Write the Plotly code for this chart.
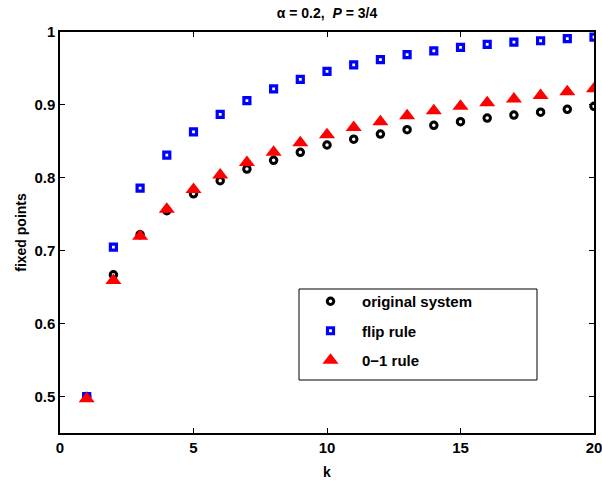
import plotly.graph_objects as go

k = list(range(1, 21))
original_system = [0.500, 0.667, 0.722, 0.755, 0.778, 0.796, 0.812, 0.824, 0.835, 0.845,
                   0.853, 0.860, 0.866, 0.872, 0.877, 0.882, 0.886, 0.890, 0.894, 0.898]
flip_rule = [0.500, 0.705, 0.786, 0.831, 0.863, 0.887, 0.906, 0.922, 0.935, 0.946,
             0.955, 0.962, 0.969, 0.974, 0.979, 0.983, 0.986, 0.988, 0.991, 0.993]
zero_one_rule = [0.497, 0.659, 0.720, 0.757, 0.784, 0.804, 0.821, 0.835, 0.848, 0.859,
                 0.869, 0.877, 0.885, 0.892, 0.898, 0.903, 0.908, 0.913, 0.918, 0.922]

x_ticks = [0, 5, 10, 15, 20]
y_ticks = [0.5, 0.6, 0.7, 0.8, 0.9, 1.0]
y_tick_text = ["0.5", "0.6", "0.7", "0.8", "0.9", "1"]

FONT = "Liberation Sans, Arial, Helvetica, sans-serif"

# plot area in pixels
L, R, T, B = 60, 594, 32, 433
W, H = R - L, B - T

fig = go.Figure()
fig.add_trace(go.Scatter(
    x=k, y=original_system, mode="markers", name="<b>original system</b>", legendgroup="a",
    marker=dict(symbol="circle-open", size=6.5, color="black", line=dict(width=3, color="black")),
))
fig.add_trace(go.Scatter(
    x=k, y=flip_rule, mode="markers", name="<b>flip rule</b>", legendgroup="b",
    marker=dict(symbol="square-open", size=6, color="#0000ff", line=dict(width=3.2, color="#0000ff")),
))
fig.add_trace(go.Scatter(
    x=k, y=zero_one_rule, mode="markers", name="<b>0\u22121 rule</b>", legendgroup="c",
    marker=dict(symbol="triangle-up", size=14, color="#ff0000", line=dict(width=0)),
))

axis_common = dict(
    showgrid=False, zeroline=False, showline=True, linecolor="black", linewidth=1.5,
    mirror="ticks", ticks="inside", ticklen=5, tickwidth=1, tickcolor="black",
    tickfont=dict(family=FONT, size=15, color="black"), automargin=False,
    ticklabeloverflow="allow",
)

# legend frame
fig.add_shape(
    type="rect", xref="paper", yref="paper",
    x0=(299 - L) / W, x1=(537 - L) / W, y0=(B - 380) / H, y1=(B - 289) / H,
    line=dict(color="black", width=1), fillcolor="white", layer="below",
)

fig.update_layout(
    width=602, height=483,
    margin=dict(l=L, r=602 - R, t=T, b=483 - B, autoexpand=False),
    paper_bgcolor="white", plot_bgcolor="white",
    font=dict(family=FONT, color="black"),
    title=dict(
        text="<b>\u03b1 = 0.2,  <i>P</i> = 3/4</b>",
        x=327 / 602, xanchor="center", y=1 - 13 / 483, yanchor="middle",
        font=dict(family=FONT, size=14, color="black"),
    ),
    xaxis=dict(range=[0, 20], tickvals=x_ticks, ticktext=[f"<b>{t}</b>" for t in x_ticks],
               title=dict(text="<b>k</b>", font=dict(family=FONT, size=14), standoff=12),
               **axis_common),
    yaxis=dict(range=[0.45, 1.0], tickvals=y_ticks, ticktext=[f"<b>{t}</b>" for t in y_tick_text],
               title=dict(text="<b>fixed points</b>", font=dict(family=FONT, size=14), standoff=4),
               **axis_common),
    legend=dict(
        x=(299 - L) / W, y=(B - 285) / H, xanchor="left", yanchor="top",
        borderwidth=0, bgcolor="rgba(0,0,0,0)",
        font=dict(family=FONT, size=15, color="black"),
        tracegroupgap=7, itemsizing="trace", itemwidth=53,
    ),
    showlegend=True,
)

fig.write_html("out.html")
